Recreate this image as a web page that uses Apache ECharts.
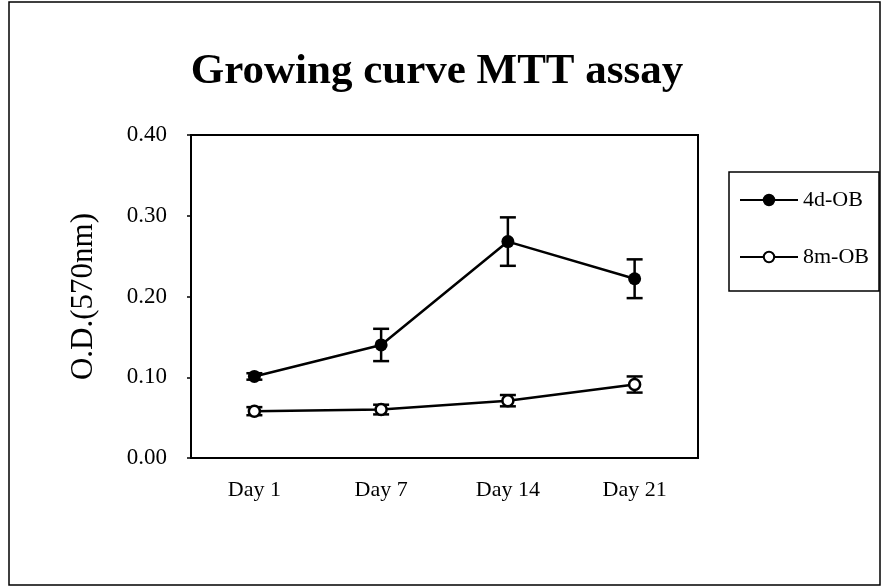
<!DOCTYPE html>
<html>
<head>
<meta charset="utf-8">
<script src="https://cdn.jsdelivr.net/npm/echarts@6/dist/echarts.min.js"></script>
<style>
  html, body { margin: 0; padding: 0; background: #fff; }
  #chart { width: 882px; height: 587px; }
</style>
</head>
<body>
<div id="chart"></div>
<script>
// categories and values
const days = ['Day 1', 'Day 7', 'Day 14', 'Day 21'];
const ob4d = [0.101, 0.140, 0.268, 0.222];
const ob4dErr = [0.004, 0.020, 0.030, 0.024];
const ob8m = [0.058, 0.060, 0.071, 0.091];
const ob8mErr = [0.005, 0.006, 0.007, 0.010];
const yTicks = [0, 0.1, 0.2, 0.3, 0.4];

const serif = 'Liberation Serif';

function errData(vals, errs) {
  return vals.map((v, i) => [i, v - errs[i], v + errs[i]]);
}

// draw vertical error bar with caps
function renderErr(params, api) {
  const x = api.value(0);
  const lo = api.coord([x, api.value(1)]);
  const hi = api.coord([x, api.value(2)]);
  const w = 8;
  const style = { stroke: '#000', lineWidth: 2.5 };
  return {
    type: 'group',
    children: [
      { type: 'line', shape: { x1: lo[0], y1: lo[1], x2: hi[0], y2: hi[1] }, style: style },
      { type: 'line', shape: { x1: lo[0] - w, y1: lo[1], x2: lo[0] + w, y2: lo[1] }, style: style },
      { type: 'line', shape: { x1: hi[0] - w, y1: hi[1], x2: hi[0] + w, y2: hi[1] }, style: style }
    ]
  };
}

const myChart = echarts.init(document.getElementById('chart'));

myChart.setOption({
  animation: false,
  backgroundColor: '#fff',
  title: {
    text: 'Growing curve MTT assay',
    left: 432,
    textAlign: 'center',
    top: 45,
    textStyle: { fontFamily: serif, fontWeight: 'bold', fontSize: 43, color: '#000' }
  },
  graphic: [
    {
      type: 'rect',
      shape: { x: 9, y: 2, width: 871, height: 583 },
      style: { fill: 'none', stroke: '#000', lineWidth: 1.5 },
      silent: true
    }
  ],
  legend: {
    orient: 'vertical',
    left: 729,
    top: 172,
    padding: [17, 10, 23, 10],
    itemGap: 35,
    itemWidth: 58,
    itemHeight: 13,
    itemStyle: { borderWidth: 2 },
    backgroundColor: '#fff',
    borderColor: '#000',
    borderWidth: 1.5,
    textStyle: { fontFamily: serif, fontSize: 22, color: '#000' },
    data: ['4d-OB', '8m-OB']
  },
  grid: {
    left: 191,
    top: 135,
    right: 184,
    bottom: 129,
    show: true,
    borderColor: '#000',
    borderWidth: 2
  },
  xAxis: {
    type: 'category',
    data: days,
    boundaryGap: true,
    axisLine: { lineStyle: { color: '#000', width: 2 } },
    axisTick: { inside: true, length: 5, lineStyle: { color: '#000', width: 1.5 } },
    axisLabel: { margin: 21, fontFamily: serif, fontSize: 22, color: '#000' },
    splitLine: { show: false }
  },
  yAxis: {
    type: 'value',
    min: yTicks[0],
    max: yTicks[yTicks.length - 1],
    interval: 0.1,
    name: 'O.D.(570nm)',
    nameLocation: 'middle',
    nameRotate: 90,
    nameGap: 92,
    nameTextStyle: { fontFamily: serif, fontSize: 31, color: '#000' },
    axisLine: { show: true, lineStyle: { color: '#000', width: 2 } },
    axisTick: { show: true, length: 4, lineStyle: { color: '#000', width: 1.5 } },
    axisLabel: {
      margin: 24,
      fontFamily: serif,
      fontSize: 23,
      color: '#000',
      formatter: v => v.toFixed(2)
    },
    splitLine: { show: false }
  },
  series: [
    {
      type: 'custom',
      name: '4d-OB err',
      renderItem: renderErr,
      data: errData(ob4d, ob4dErr),
      z: 1,
      silent: true
    },
    {
      type: 'custom',
      name: '8m-OB err',
      renderItem: renderErr,
      data: errData(ob8m, ob8mErr),
      z: 1,
      silent: true
    },
    {
      type: 'line',
      name: '4d-OB',
      data: ob4d,
      symbol: 'circle',
      symbolSize: 13,
      lineStyle: { color: '#000', width: 2.5 },
      itemStyle: { color: '#000', borderColor: '#000', borderWidth: 0 },
      z: 3
    },
    {
      type: 'line',
      name: '8m-OB',
      data: ob8m,
      symbol: 'circle',
      symbolSize: 11,
      lineStyle: { color: '#000', width: 2.5 },
      itemStyle: { color: '#fff', borderColor: '#000', borderWidth: 2.5 },
      z: 3
    }
  ]
});
</script>
</body>
</html>
